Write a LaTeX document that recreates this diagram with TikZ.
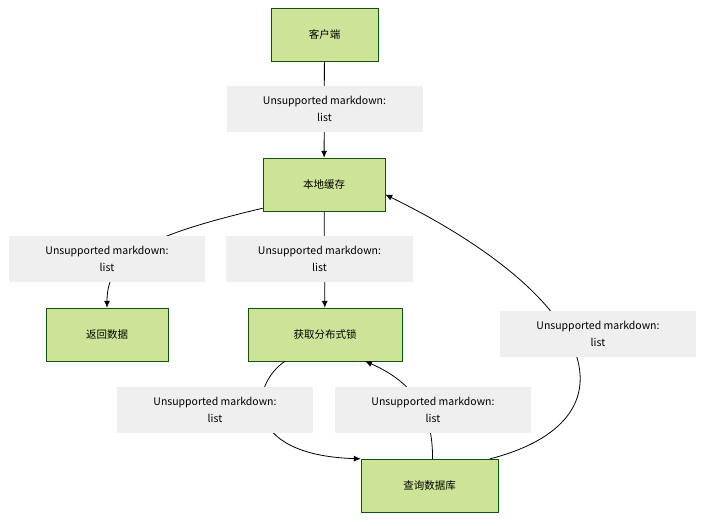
\documentclass[tikz,border=0pt]{standalone}
\usepackage{fontspec}
\setmainfont{Noto Sans CJK SC}
\usetikzlibrary{arrows.meta}
\definecolor{nodefill}{HTML}{CDE498}
\definecolor{nodeline}{HTML}{13540C}
\definecolor{labelbg}{HTML}{EFEFEF}
\tikzset{
    box/.style={rectangle, draw=nodeline, fill=nodefill, minimum height=53pt, font=\fontsize{10.5pt}{12pt}\selectfont},
    tag/.style={rectangle, fill=labelbg, minimum width=196pt, minimum height=46pt, align=center, font=\fontsize{10.5pt}{17pt}\selectfont},
    link/.style={-{Latex[length=7pt,width=6pt]}, line width=0.8pt}
}
\begin{document}
\begin{tikzpicture}[x=1pt, y=-1pt]
    \useasboundingbox (0,0) rectangle (713,526);
    % Nodes
    \node[box, minimum width=107pt] (client) at (324.5,34.5) {客户端};
    \node[box, minimum width=122pt] (cache) at (324,184.5) {本地缓存};
    \node[box, minimum width=122pt] (ret) at (107,334.5) {返回数据};
    \node[box, minimum width=154pt] (lock) at (325,334.5) {获取分布式锁};
    \node[box, minimum width=137pt] (db) at (429.5,485.5) {查询数据库};

    % Connections
    \draw[link] (client) -- (cache);
    \draw[link] (cache.south west) ++(0,-3) .. controls (150,235) and (107,255) .. (ret.north);
    \draw[link] (cache) -- (lock);
    \draw[link] (lock.south) ++(-40,0) .. controls (250,385) and (240,455) .. (db.north west);
    \draw[link] (db.north) ++(3,0) .. controls (433,420) and (420,385) .. ([xshift=40pt]lock.south);
    \draw[link] (db.north east) ++(-8,0) .. controls (640,420) and (600,300) .. ([yshift=-10pt]cache.east);

    % Labels
    \node[tag] (t1) at (324.5,109) {Unsupported markdown:\\list};
    \node[tag] (t2) at (107,259) {Unsupported markdown:\\list};
    \node[tag, minimum width=187pt] (t3) at (319.5,259) {Unsupported markdown:\\list};
    \node[tag] (t4) at (598,334) {Unsupported markdown:\\list};
    \node[tag] (t5) at (215,410) {Unsupported markdown:\\list};
    \node[tag] (t6) at (433,410) {Unsupported markdown:\\list};
\end{tikzpicture}
\end{document}
